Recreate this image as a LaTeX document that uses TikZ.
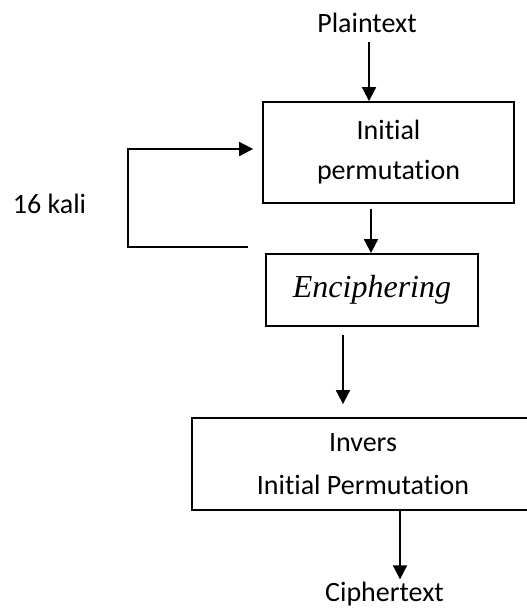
\documentclass[tikz,border=0pt]{standalone}
\usepackage{fontspec}
\setmainfont{Carlito}[Ligatures=NoCommon]
\newfontfamily\timesfont{Liberation Serif}
\usetikzlibrary{
  arrows.meta
}
\tikzset{
  teks/.style={
    inner sep=0pt,
    font=\fontsize{28bp}{40bp}\selectfont
  },
  kotak/.style={
    draw=black,
    line width=1.8bp,
    align=center,
    inner sep=0pt,
    font=\fontsize{28bp}{40bp}\selectfont
  },
  arrow/.style={
    -{Triangle[length=14bp,width=14bp]},
    line width=1.8bp,
    draw=black
  }
}

\begin{document}
\begin{tikzpicture}[x=1bp,y=-1bp]
\useasboundingbox (0,0) rectangle (527,609);
\node[teks, anchor=base] (plain) at (367,33) {Plaintext};
\node[kotak, minimum width=251bp, minimum height=101bp] (init) at (388.5,152.5) {Initial\\permutation};
\node[kotak, minimum width=212bp, minimum height=72bp,
  font=\fontsize{32bp}{36bp}\selectfont\timesfont\itshape] (enc) at (372,290) {Enciphering};
\node[kotak, minimum width=342bp, minimum height=92bp,
  font=\fontsize{28bp}{43bp}\selectfont] (inv) at (363,464) {Invers\\Initial Permutation};
\node[teks, anchor=base] (cipher) at (384.5,601) {Ciphertext};
\node[teks, anchor=base] (kali) at (49.5,213) {16 kali};
\coordinate (balik) at (248,247);

\draw[arrow, shorten <=9bp] (plain.south -| 369,0) -- (369,0 |- init.north);
\draw[arrow, shorten <=5bp] (371,0 |- init.south) -- (371,0 |- enc.north);
\draw[arrow, shorten <=8bp, shorten >=13bp] (343,0 |- enc.south) -- (343,0 |- inv.north);
\draw[arrow, shorten >=2bp] (400,0 |- inv.south) -- (400,0 |- cipher.north);
% putaran 16 kali
\draw[arrow, shorten >=9bp] (balik) -| (128,149) -- (init.west |- 0,149);
\end{tikzpicture}
\end{document}
